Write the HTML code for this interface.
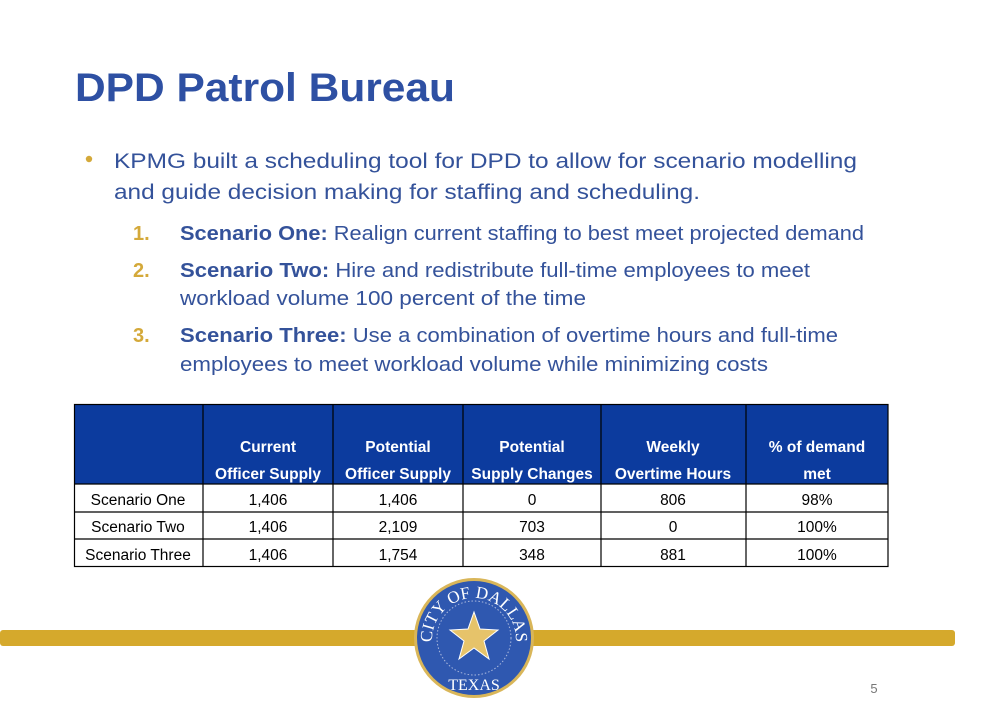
<!DOCTYPE html>
<html><head><meta charset="utf-8"><style>
body{margin:0;background:#fff;}
svg{display:block}
</style></head><body>
<svg width="982" height="725" viewBox="0 0 982 725" xmlns="http://www.w3.org/2000/svg" font-family="Liberation Sans, sans-serif">
<rect width="982" height="725" fill="#fff"/>
<text x="75" y="101" font-size="40" font-weight="bold" fill="#2e50a3" textLength="380" lengthAdjust="spacingAndGlyphs">DPD Patrol Bureau</text>
<g fill="#34529a" font-size="21">
<circle cx="89" cy="159" r="3.2" fill="#d4a93a"/>
<text x="114" y="168" textLength="743" lengthAdjust="spacingAndGlyphs">KPMG built a scheduling tool for DPD to allow for scenario modelling</text>
<text x="114" y="199" textLength="586" lengthAdjust="spacingAndGlyphs">and guide decision making for staffing and scheduling.</text>
<g font-size="20">
<text x="133" y="240" fill="#d4a93a" font-weight="bold">1.</text>
<text x="180" y="240" textLength="684" lengthAdjust="spacingAndGlyphs"><tspan font-weight="bold">Scenario One:</tspan> Realign current staffing to best meet projected demand</text>
<text x="133" y="277" fill="#d4a93a" font-weight="bold">2.</text>
<text x="180" y="277" textLength="630" lengthAdjust="spacingAndGlyphs"><tspan font-weight="bold">Scenario Two:</tspan> Hire and redistribute full-time employees to meet</text>
<text x="180" y="305" textLength="406" lengthAdjust="spacingAndGlyphs">workload volume 100 percent of the time</text>
<text x="133" y="342" fill="#d4a93a" font-weight="bold">3.</text>
<text x="180" y="342" textLength="658" lengthAdjust="spacingAndGlyphs"><tspan font-weight="bold">Scenario Three:</tspan>  Use a combination of overtime hours and full-time</text>
<text x="180" y="371" textLength="588" lengthAdjust="spacingAndGlyphs">employees to meet workload volume while minimizing costs</text>
</g></g>
<rect x="74" y="404" width="814" height="80" fill="#0c3b9e"/>
<g stroke="#000" stroke-width="1.2" fill="none">
<rect x="74.5" y="404.5" width="813.5" height="162"/>
<line x1="74" y1="484" x2="888" y2="484"/>
<line x1="74" y1="512" x2="888" y2="512"/>
<line x1="74" y1="539" x2="888" y2="539"/>
<line x1="203" y1="404" x2="203" y2="566"/>
<line x1="333" y1="404" x2="333" y2="566"/>
<line x1="463" y1="404" x2="463" y2="566"/>
<line x1="601" y1="404" x2="601" y2="566"/>
<line x1="746" y1="404" x2="746" y2="566"/>
</g>
<g fill="#fff" font-size="15.5" font-weight="bold" text-anchor="middle">
<text x="268" y="452">Current</text><text x="268" y="479">Officer Supply</text>
<text x="398" y="452">Potential</text><text x="398" y="479">Officer Supply</text>
<text x="532" y="452">Potential</text><text x="532" y="479">Supply Changes</text>
<text x="673" y="452">Weekly</text><text x="673" y="479">Overtime Hours</text>
<text x="817" y="452">% of demand</text><text x="817" y="479">met</text>
</g>
<g fill="#000" font-size="15.5" text-anchor="middle">
<text x="138" y="505">Scenario One</text><text x="268" y="505">1,406</text><text x="398" y="505">1,406</text><text x="532" y="505">0</text><text x="673" y="505">806</text><text x="817" y="505">98%</text>
<text x="138" y="532">Scenario Two</text><text x="268" y="532">1,406</text><text x="398" y="532">2,109</text><text x="532" y="532">703</text><text x="673" y="532">0</text><text x="817" y="532">100%</text>
<text x="138" y="560">Scenario Three</text><text x="268" y="560">1,406</text><text x="398" y="560">1,754</text><text x="532" y="560">348</text><text x="673" y="560">881</text><text x="817" y="560">100%</text>
</g>
<rect x="0" y="630" width="955" height="16" rx="3" fill="#d5a92c"/>
<circle cx="474" cy="638" r="60" fill="#d9b659"/>
<circle cx="474" cy="638" r="57" fill="#2f58b0"/>
<circle cx="474" cy="638" r="37" fill="none" stroke="#aab8dd" stroke-width="1" stroke-dasharray="1.5 2"/>
<polygon fill="#e6c36a" stroke="#fff" stroke-width="1" points="474,612 480,629 498,630 484,641 489,659 474,648 459,659 464,641 450,630 468,629"/>
<defs><path id="top" d="M432,640 A42,42 0 0 1 516,640"/><path id="bot" d="M440,660 A40,40 0 0 0 508,660"/></defs>
<text font-family="Liberation Serif, serif" font-size="17" fill="#fff"><textPath href="#top" startOffset="50%" text-anchor="middle">CITY OF DALLAS</textPath></text>
<text font-family="Liberation Serif, serif" font-size="16" fill="#fff" x="474" y="690" text-anchor="middle">TEXAS</text>
<text x="874" y="693" font-size="13" fill="#777" text-anchor="middle">5</text>
</svg>
</body></html>
